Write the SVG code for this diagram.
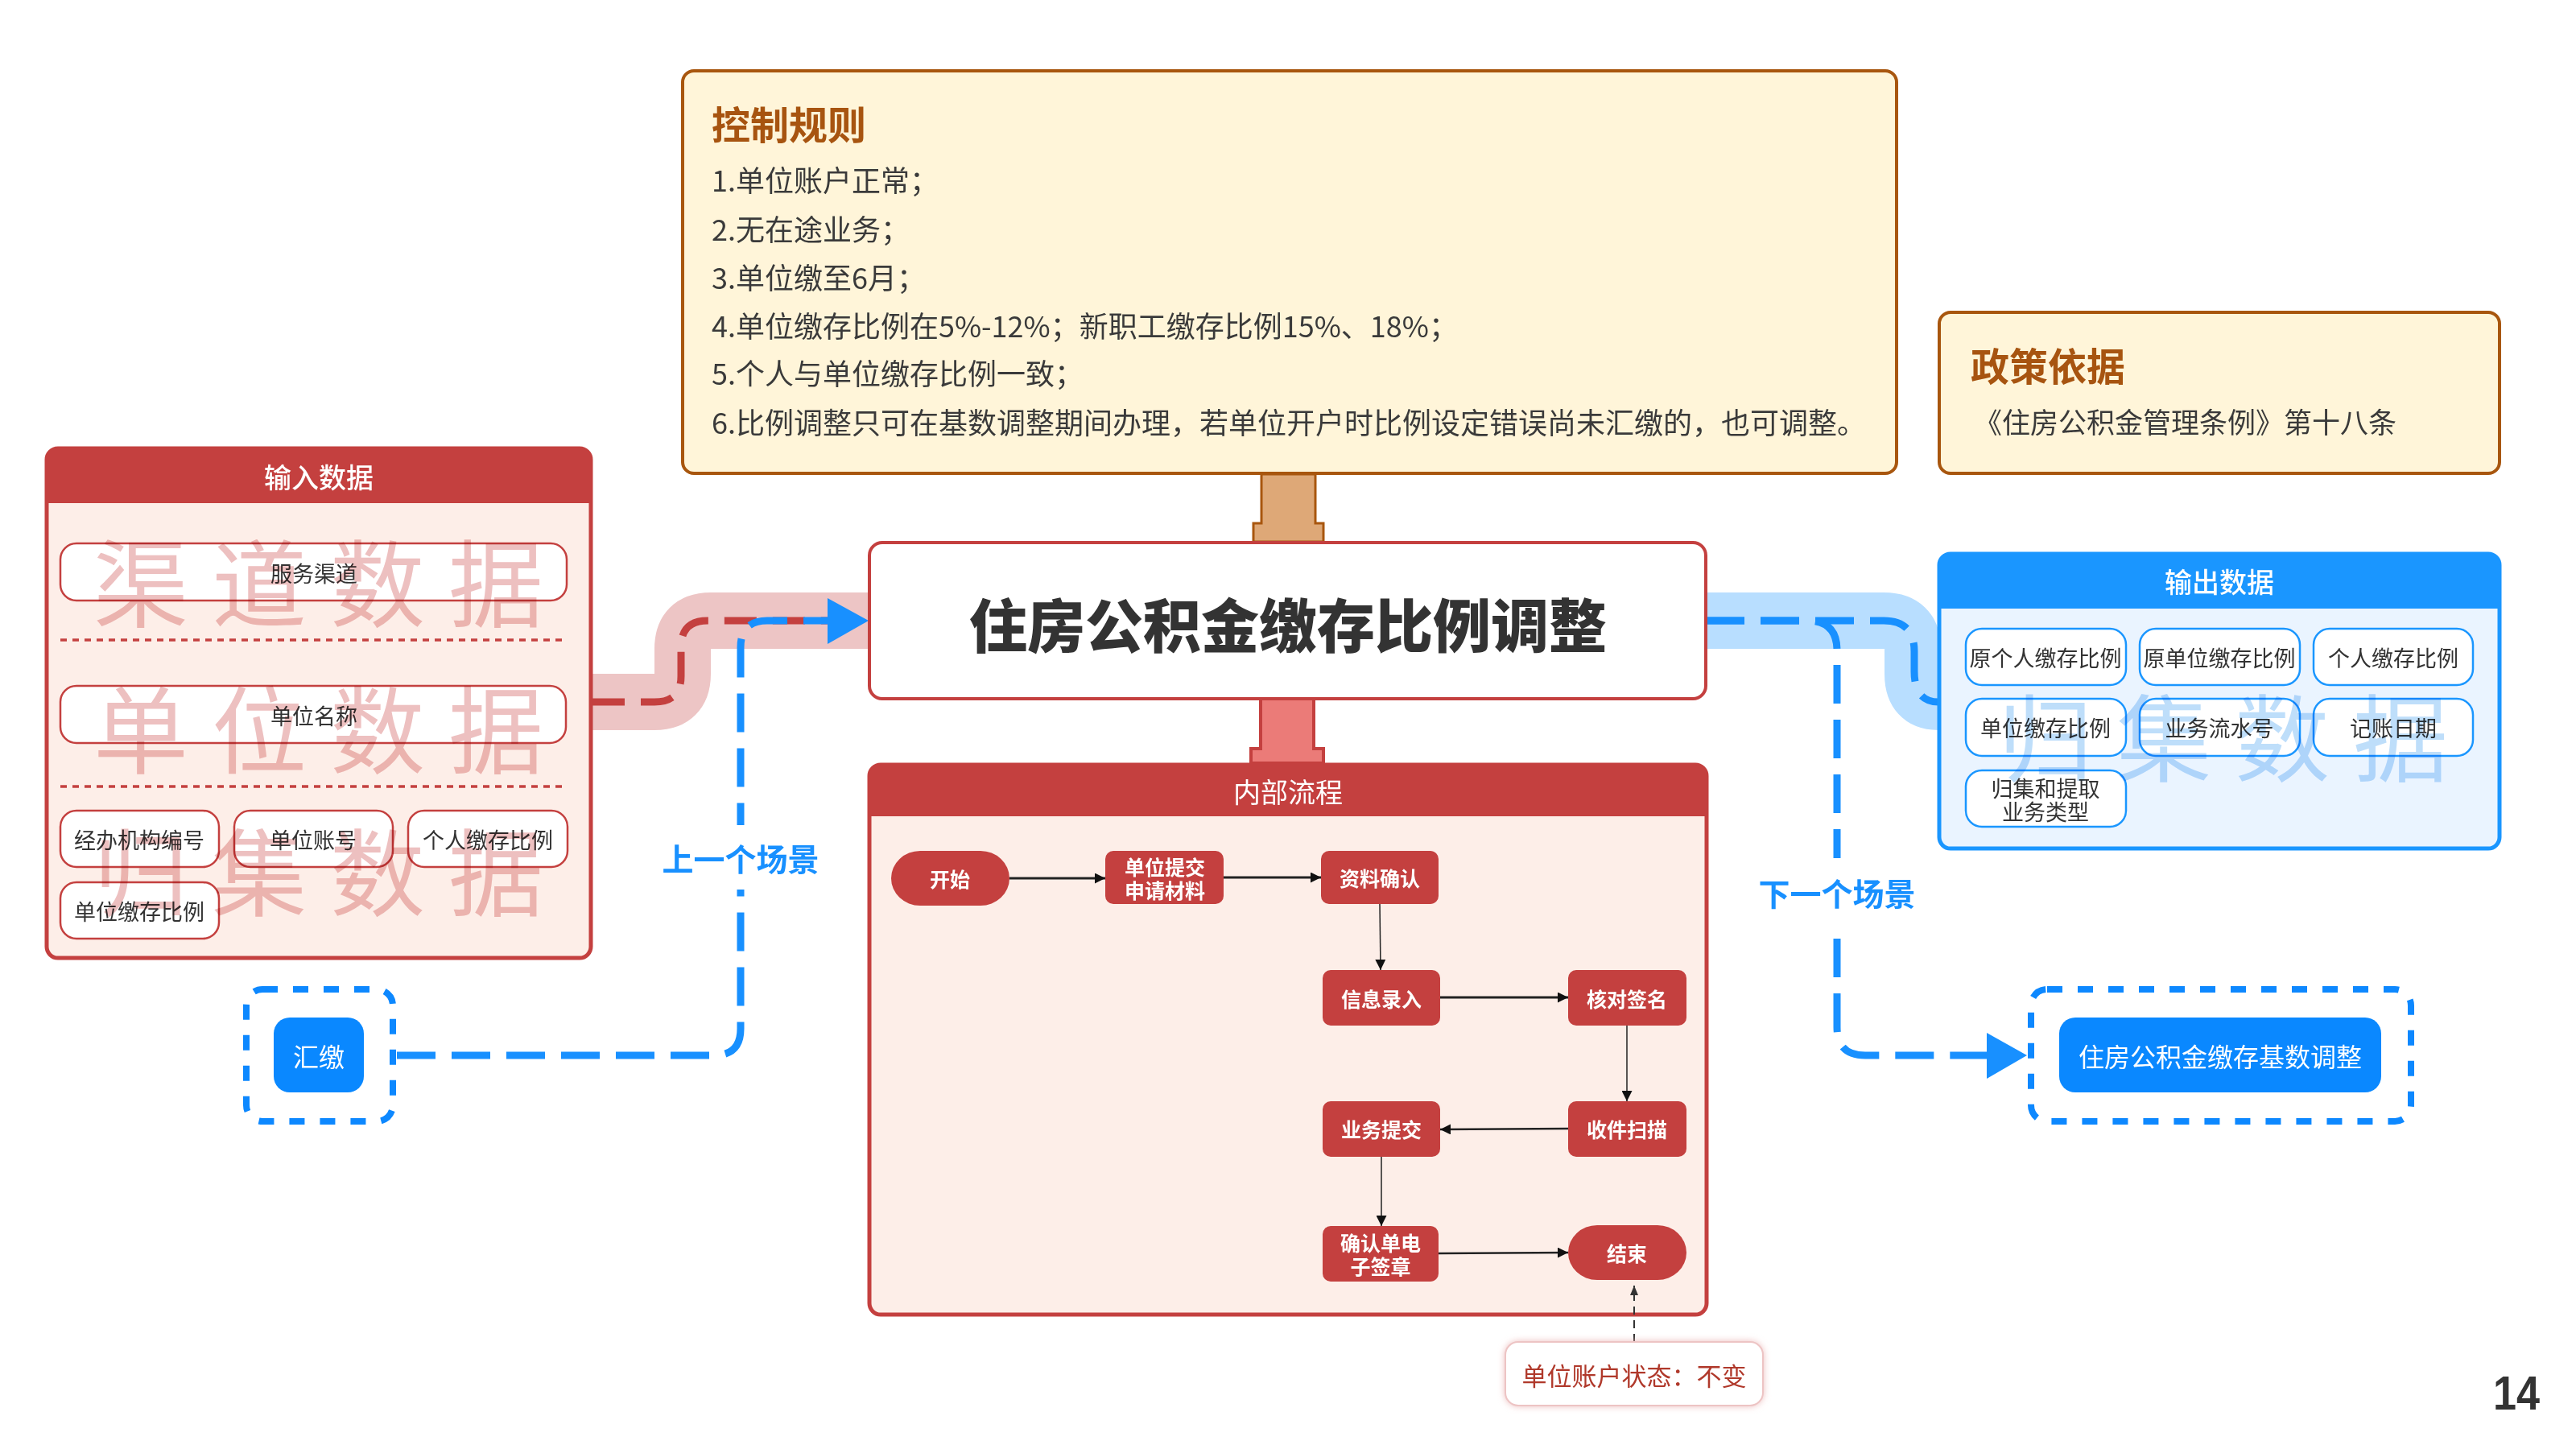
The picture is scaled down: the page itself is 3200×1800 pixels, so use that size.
<svg xmlns="http://www.w3.org/2000/svg" width="3200" height="1800" viewBox="0 0 3200 1800">
<style>
text{font-family:'Noto Sans CJK SC','Noto Sans',sans-serif;dominant-baseline:central}
.rule{font-size:36px;fill:#3a3a3a}
.btitle{font-size:48px;font-weight:700;fill:#A75410}
.hdr{font-size:34px;fill:#fff;text-anchor:middle;font-weight:500}
.item{font-size:27px;fill:#333;text-anchor:middle}
.rbox{fill:#fff;stroke:#C4403F;stroke-width:2.5}
.bbox{fill:#fff;stroke:#1A96FF;stroke-width:2.5}
.fn{fill:#C4403F}
.fnt{font-size:25px;font-weight:700;fill:#fff;text-anchor:middle}
.fl{stroke:#222;fill:none}
.wmr{font-size:118px;fill:#E9B0B0;opacity:.8;mix-blend-mode:multiply;text-anchor:middle}
.wmb{font-size:118px;fill:#B3D8FA;opacity:.85;mix-blend-mode:multiply;text-anchor:middle}
.bd{fill:none;stroke:#1890FF;stroke-width:9;stroke-dasharray:48 20}
.scene{font-size:39px;font-weight:700;fill:#1890FF;text-anchor:middle}
</style>
<defs>
<marker id="ah" viewBox="0 0 12 12" refX="12" refY="6" markerWidth="13" markerHeight="13" markerUnits="userSpaceOnUse" orient="auto"><path d="M0,0 L12,6 L0,12 Z" fill="#111"/></marker>
<marker id="ahs" viewBox="0 0 12 12" refX="12" refY="6" markerWidth="12" markerHeight="14" markerUnits="userSpaceOnUse" orient="auto"><path d="M0,1 L12,6 L0,11 Z" fill="#333"/></marker>
<filter id="glow" x="-10%" y="-20%" width="120%" height="140%"><feGaussianBlur stdDeviation="5"/></filter>
</defs>
<rect width="3200" height="1800" fill="#fff"/>

<!-- connectors between scene blocks -->
<g id="connectors">
  <path d="M736 872 H813 Q848 872 848 837 V806 Q848 771 883 771 H1079" fill="none" stroke="#EDC5C5" stroke-width="70"/>
  <path d="M2119 771 H2340 Q2376 771 2376 806 V837 Q2376 872 2408 872" fill="none" stroke="#B8DEFF" stroke-width="70"/>
  <path d="M736 872 H813 Q846 872 846 840 V804 Q846 771 879 771 H1079" fill="none" stroke="#C4403F" stroke-width="9" stroke-dasharray="40 20"/>
  <path class="bd" d="M493 1311 H887 Q920 1311 920 1278 V804 Q920 771 953 771 H1030"/>
  <polygon points="1028,743 1079,771 1028,800" fill="#1890FF"/>
  <rect x="815" y="1025" width="210" height="80" fill="#fff"/>
  <text class="scene" x="920" y="1065">上一个场景</text>
  <path class="bd" d="M2119 771 H2340 Q2378 771 2378 809 V834 Q2378 872 2408 872"/>
  <path class="bd" d="M2119 771 H2245 Q2282 771 2282 808 V1276 Q2282 1311 2317 1311 H2470"/>
  <polygon points="2468,1283 2518,1311 2468,1340" fill="#1890FF"/>
  <rect x="2177" y="1066" width="210" height="80" fill="#fff"/>
  <text class="scene" x="2282" y="1108">下一个场景</text>
  <path d="M1567 589 H1634 V650 H1644 V673 H1557 V650 H1567 Z" fill="#DEA877" stroke="#A8560E" stroke-width="3"/>
  <path d="M1566 868 H1632 V930 H1644 V948 H1554 V930 H1566 Z" fill="#EB7B78" stroke="#C4403F" stroke-width="4"/>
</g>

<!-- control rules -->
<g id="control-rules">
  <rect x="848" y="88" width="1508" height="500" rx="14" fill="#FFF5D9" stroke="#A8560E" stroke-width="4"/>
  <text class="btitle" x="884" y="152">控制规则</text>
  <text class="rule" x="884" y="222">1.单位账户正常；</text>
  <text class="rule" x="884" y="283">2.无在途业务；</text>
  <text class="rule" x="884" y="343">3.单位缴至6月；</text>
  <text class="rule" x="884" y="403">4.单位缴存比例在5%-12%；新职工缴存比例15%、18%；</text>
  <text class="rule" x="884" y="462">5.个人与单位缴存比例一致；</text>
  <text class="rule" x="884" y="523">6.比例调整只可在基数调整期间办理，若单位开户时比例设定错误尚未汇缴的，也可调整。</text>
</g>

<!-- policy -->
<g id="policy">
  <rect x="2409" y="388" width="696" height="200" rx="14" fill="#FFF5D9" stroke="#A8560E" stroke-width="4"/>
  <text class="btitle" x="2448" y="452">政策依据</text>
  <text class="rule" x="2452" y="522" style="font-size:35px">《住房公积金管理条例》第十八条</text>
</g>

<!-- main title -->
<g id="main-title">
  <rect x="1080" y="674" width="1039" height="194" rx="16" fill="#fff" stroke="#C4403F" stroke-width="4"/>
  <text x="1600" y="772" text-anchor="middle" style="font-size:72px;font-weight:900;fill:#333">住房公积金缴存比例调整</text>
</g>

<!-- input data panel -->
<g id="input-data">
  <rect x="58" y="557" width="676" height="633" rx="14" fill="#FDEEE8" stroke="#C4403F" stroke-width="5"/>
  <path d="M58 625 V571 Q58 557 72 557 H720 Q734 557 734 571 V625 Z" fill="#C4403F"/>
  <text class="hdr" x="396" y="591">输入数据</text>
  <line x1="75" y1="795" x2="704" y2="795" stroke="#C4403F" stroke-width="3.5" stroke-dasharray="8 7"/>
  <line x1="75" y1="977" x2="704" y2="977" stroke="#C4403F" stroke-width="3.5" stroke-dasharray="8 7"/>
  <g id="in-channel"><rect class="rbox" x="75" y="675" width="629" height="71" rx="20"/><text class="item" x="390" y="711">服务渠道</text></g>
  <g id="in-unitname"><rect class="rbox" x="75" y="852" width="628" height="71" rx="20"/><text class="item" x="390" y="888">单位名称</text></g>
  <g id="in-agency"><rect class="rbox" x="75" y="1007" width="197" height="70" rx="20"/><text class="item" x="173" y="1042">经办机构编号</text></g>
  <g id="in-account"><rect class="rbox" x="291" y="1007" width="197" height="70" rx="20"/><text class="item" x="389" y="1042">单位账号</text></g>
  <g id="in-personal"><rect class="rbox" x="507" y="1007" width="198" height="70" rx="20"/><text class="item" x="606" y="1042">个人缴存比例</text></g>
  <g id="in-unitratio"><rect class="rbox" x="75" y="1096" width="197" height="70" rx="20"/><text class="item" x="173" y="1131">单位缴存比例</text></g>
  <text class="wmr" x="175 322 469 616" y="718">渠道数据</text>
  <text class="wmr" x="175 322 469 616" y="900">单位数据</text>
  <text class="wmr" x="175 322 469 616" y="1077">归集数据</text>
</g>

<!-- output data panel -->
<g id="output-data">
  <rect x="2409" y="688" width="696" height="366" rx="14" fill="#EAF4FF" stroke="#1A96FF" stroke-width="5"/>
  <path d="M2409 756 V702 Q2409 688 2423 688 H3091 Q3105 688 3105 702 V756 Z" fill="#1A96FF"/>
  <text class="hdr" x="2757" y="721">输出数据</text>
  <g id="out-1"><rect class="bbox" x="2442" y="781" width="199" height="70" rx="20"/><text class="item" x="2541" y="816">原个人缴存比例</text></g>
  <g id="out-2"><rect class="bbox" x="2658" y="781" width="199" height="70" rx="20"/><text class="item" x="2757" y="816">原单位缴存比例</text></g>
  <g id="out-3"><rect class="bbox" x="2874" y="781" width="198" height="70" rx="20"/><text class="item" x="2973" y="816">个人缴存比例</text></g>
  <g id="out-4"><rect class="bbox" x="2442" y="868" width="199" height="71" rx="20"/><text class="item" x="2541" y="903">单位缴存比例</text></g>
  <g id="out-5"><rect class="bbox" x="2658" y="868" width="199" height="71" rx="20"/><text class="item" x="2757" y="903">业务流水号</text></g>
  <g id="out-6"><rect class="bbox" x="2874" y="868" width="198" height="71" rx="20"/><text class="item" x="2973" y="903">记账日期</text></g>
  <g id="out-7"><rect class="bbox" x="2442" y="957" width="199" height="70" rx="20"/><text class="item" x="2541" y="978">归集和提取</text><text class="item" x="2541" y="1007">业务类型</text></g>
  <text class="wmb" x="2541 2688 2835 2982" y="910">归集数据</text>
</g>

<!-- internal process -->
<g id="internal-process">
  <rect x="1080" y="950" width="1040" height="683" rx="14" fill="#FDEEE8" stroke="#C4403F" stroke-width="5"/>
  <path d="M1080 1014 V964 Q1080 950 1094 950 H2106 Q2120 950 2120 964 V1014 Z" fill="#C4403F"/>
  <text class="hdr" x="1600" y="982" style="font-weight:400">内部流程</text>
</g>

<!-- internal flow connectors -->
<g id="flow-connectors">
  <line class="fl" x1="1254" y1="1091" x2="1373" y2="1091" stroke-width="3" marker-end="url(#ah)"/>
  <line class="fl" x1="1520" y1="1090" x2="1641" y2="1090" stroke-width="3" marker-end="url(#ah)"/>
  <line class="fl" x1="1714" y1="1123" x2="1715" y2="1205" stroke-width="1.5" marker-end="url(#ah)"/>
  <line class="fl" x1="1789" y1="1239" x2="1948" y2="1239" stroke-width="3" marker-end="url(#ah)"/>
  <line class="fl" x1="2021" y1="1274" x2="2021" y2="1368" stroke-width="1.5" marker-end="url(#ah)"/>
  <line class="fl" x1="1948" y1="1402" x2="1789" y2="1403" stroke-width="2.5" marker-end="url(#ah)"/>
  <line class="fl" x1="1716" y1="1437" x2="1716" y2="1523" stroke-width="1.5" marker-end="url(#ah)"/>
  <line class="fl" x1="1787" y1="1557" x2="1948" y2="1556" stroke-width="2.5" marker-end="url(#ah)"/>
  <line x1="2030" y1="1667" x2="2030" y2="1597" stroke="#333" stroke-width="2" stroke-dasharray="10 7" marker-end="url(#ahs)"/>
</g>

<g id="n-start"><rect class="fn" x="1107" y="1057" width="147" height="68" rx="36"/><text class="fnt" x="1180" y="1091">开始</text></g>
<g id="n-submit"><rect class="fn" x="1373" y="1057" width="147" height="66" rx="10"/><text class="fnt" x="1447" y="1076">单位提交</text><text class="fnt" x="1447" y="1105">申请材料</text></g>
<g id="n-confirm"><rect class="fn" x="1641" y="1057" width="146" height="66" rx="10"/><text class="fnt" x="1714" y="1090">资料确认</text></g>
<g id="n-entry"><rect class="fn" x="1643" y="1205" width="146" height="69" rx="10"/><text class="fnt" x="1716" y="1240">信息录入</text></g>
<g id="n-check"><rect class="fn" x="1948" y="1205" width="147" height="69" rx="10"/><text class="fnt" x="2021" y="1240">核对签名</text></g>
<g id="n-scan"><rect class="fn" x="1948" y="1368" width="147" height="69" rx="10"/><text class="fnt" x="2021" y="1402">收件扫描</text></g>
<g id="n-bizsubmit"><rect class="fn" x="1643" y="1368" width="146" height="69" rx="10"/><text class="fnt" x="1716" y="1402">业务提交</text></g>
<g id="n-esign"><rect class="fn" x="1643" y="1523" width="144" height="69" rx="10"/><text class="fnt" x="1715" y="1543">确认单电</text><text class="fnt" x="1715" y="1572">子签章</text></g>
<g id="n-end"><rect class="fn" x="1948" y="1522" width="147" height="68" rx="36"/><text class="fnt" x="2021" y="1556">结束</text></g>

<!-- note -->
<g id="note">
  <rect x="1870" y="1667" width="320" height="79" rx="16" fill="#E9AFAF" filter="url(#glow)"/>
  <rect x="1870" y="1667" width="320" height="79" rx="16" fill="#fff" stroke="#EDC4C4" stroke-width="2"/>
  <text x="2030" y="1707" text-anchor="middle" style="font-size:31px;fill:#B0392B">单位账户状态：不变</text>
</g>

<!-- scene nodes -->
<g id="prev-scene">
  <rect x="306" y="1229" width="182" height="164" rx="20" fill="none" stroke="#0D88FF" stroke-width="8" stroke-dasharray="19 19"/>
  <rect x="340" y="1264" width="112" height="93" rx="20" fill="#0A88FF"/>
  <text x="396" y="1311" text-anchor="middle" style="font-size:32px;fill:#fff">汇缴</text>
</g>
<g id="next-scene">
  <rect x="2523" y="1229" width="472" height="164" rx="20" fill="none" stroke="#0D88FF" stroke-width="8" stroke-dasharray="19 19"/>
  <rect x="2558" y="1264" width="400" height="93" rx="20" fill="#0A88FF"/>
  <text x="2758" y="1311" text-anchor="middle" style="font-size:32px;fill:#fff">住房公积金缴存基数调整</text>
</g>

<text x="3126" y="1730" text-anchor="middle" textLength="58" lengthAdjust="spacingAndGlyphs" style="font-family:'Liberation Sans',sans-serif;font-size:60px;font-weight:700;fill:#333">14</text>
</svg>
